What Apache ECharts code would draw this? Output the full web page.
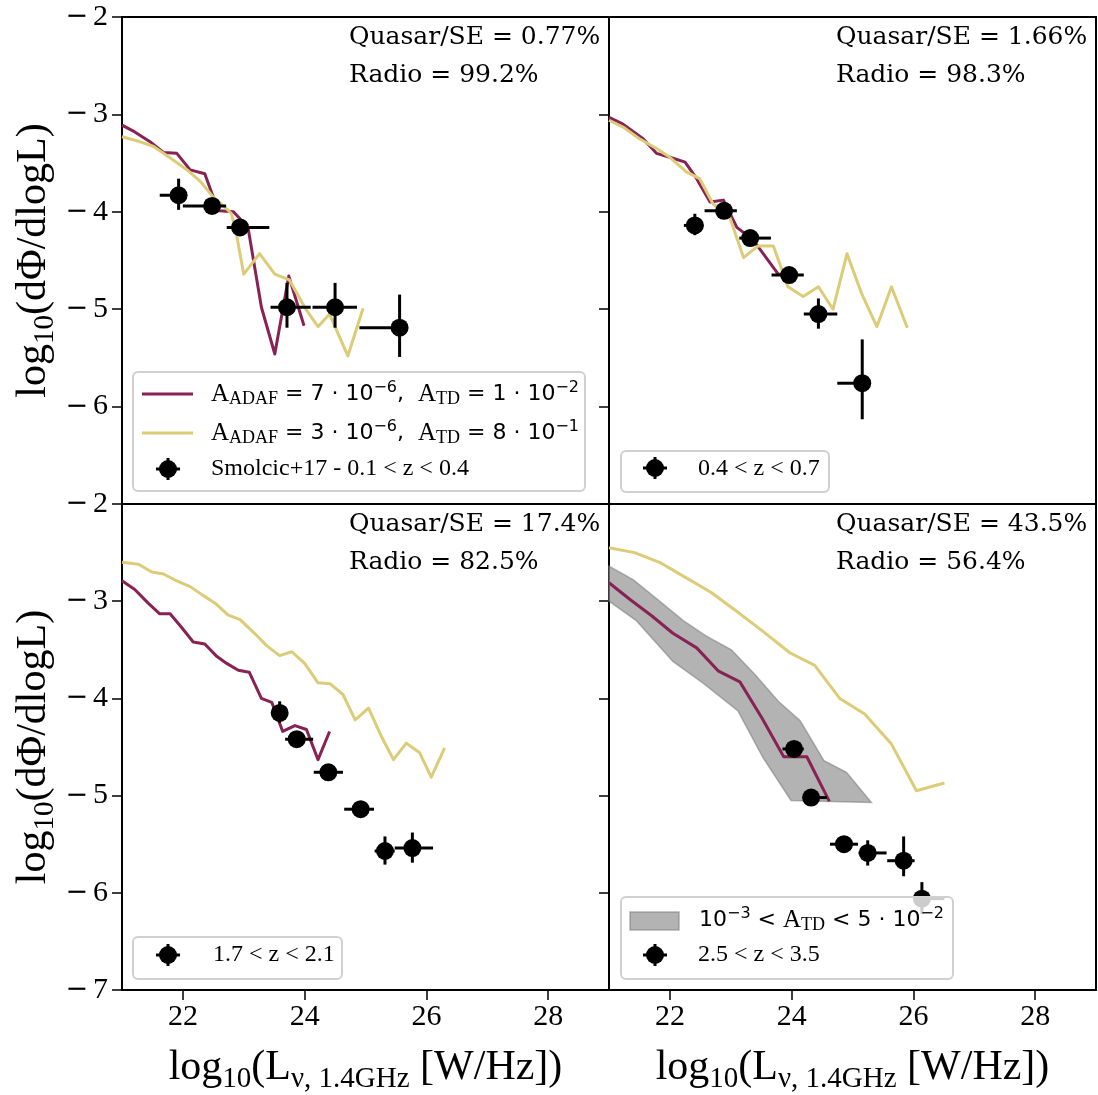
<!DOCTYPE html>
<html><head><meta charset="utf-8">
<script src="https://cdn.jsdelivr.net/npm/echarts@6/dist/echarts.min.js"></script>
<style>html,body{margin:0;padding:0;background:#fff}#c{width:1098px;height:1095px}</style>
</head><body><div id="c"></div>
<script>
// ---------------- data ----------------
const xTicks = [22, 24, 26, 28];

// Panel 1 : 0.1 < z < 0.4
const p1Purple = [[21.0,-3.11],[21.21,-3.18],[21.46,-3.28],[21.68,-3.39],[21.9,-3.40],[22.12,-3.57],[22.36,-3.61],[22.5,-3.85],[22.6,-3.99],[22.83,-4.0],[23.07,-4.16],[23.29,-4.98],[23.51,-5.46],[23.74,-4.66],[23.99,-5.17]];
const p1Yellow = [[21.0,-3.23],[21.24,-3.27],[21.52,-3.33],[21.8,-3.45],[22.07,-3.57],[22.29,-3.69],[22.5,-3.85],[22.72,-3.97],[22.8,-4.02],[22.88,-4.23],[23.0,-4.64],[23.26,-4.43],[23.51,-4.64],[23.75,-4.70],[24.03,-5.01],[24.22,-5.18],[24.41,-5.05],[24.71,-5.48],[24.96,-4.99]];
const p1X   = [21.93, 22.48, 22.94, 23.71, 24.5, 25.56];
const p1Y   = [-3.83, -3.94, -4.16, -4.98, -4.98, -5.19];
const p1XLo = [21.62, 22.0, 22.72, 23.44, 24.13, 24.9];
const p1XHi = [22.0, 22.71, 23.42, 24.1, 24.86, 25.56];
const p1YLo = [-3.98, -4.0, -4.22, -5.19, -5.19, -5.49];
const p1YHi = [-3.66, -3.88, -4.10, -4.73, -4.73, -4.85];

// Panel 2 : 0.4 < z < 0.7
const p2Purple = [[21.0,-3.03],[21.23,-3.10],[21.56,-3.25],[21.78,-3.40],[22.0,-3.44],[22.25,-3.49],[22.44,-3.66],[22.66,-3.90],[22.88,-3.88],[23.1,-4.16],[23.37,-4.29],[23.78,-4.64],[23.85,-4.64]];
const p2Yellow = [[21.0,-3.06],[21.23,-3.13],[21.5,-3.25],[21.78,-3.35],[22.0,-3.44],[22.27,-3.59],[22.49,-3.66],[22.71,-3.92],[22.98,-4.05],[23.21,-4.47],[23.45,-4.35],[23.7,-4.35],[23.94,-4.77],[24.19,-4.87],[24.44,-4.77],[24.68,-5.0],[24.91,-4.43],[25.15,-4.84],[25.4,-5.18],[25.64,-4.77],[25.9,-5.19]];
const p2X   = [22.41, 22.89, 23.32, 23.96, 24.44, 25.16];
const p2Y   = [-4.14, -3.99, -4.27, -4.65, -5.05, -5.76];
const p2XLo = [22.23, 22.57, 23.14, 23.67, 24.2, 24.75];
const p2XHi = [22.55, 23.1, 23.66, 24.2, 24.75, 25.16];
const p2YLo = [-4.24, -4.07, -4.33, -4.72, -5.20, -6.13];
const p2YHi = [-4.02, -3.92, -4.21, -4.58, -4.89, -5.31];

// Panel 3 : 1.7 < z < 2.1
const p3Purple = [[21.0,-2.79],[21.21,-2.88],[21.43,-3.02],[21.62,-3.13],[21.79,-3.13],[21.98,-3.27],[22.17,-3.42],[22.36,-3.44],[22.56,-3.57],[22.72,-3.64],[22.91,-3.71],[23.09,-3.73],[23.29,-4.0],[23.46,-4.04],[23.64,-4.34],[23.84,-4.28],[24.03,-4.32],[24.22,-4.63],[24.41,-4.34]];
const p3Yellow = [[21.0,-2.60],[21.27,-2.62],[21.49,-2.70],[21.68,-2.72],[21.9,-2.79],[22.12,-2.85],[22.33,-2.94],[22.53,-3.02],[22.74,-3.14],[22.94,-3.19],[23.16,-3.32],[23.38,-3.46],[23.59,-3.56],[23.79,-3.52],[24.0,-3.64],[24.22,-3.84],[24.42,-3.85],[24.63,-3.96],[24.83,-4.22],[25.05,-4.10],[25.26,-4.39],[25.46,-4.63],[25.67,-4.46],[25.89,-4.56],[26.08,-4.81],[26.3,-4.51]];
const p3X   = [23.59, 23.87, 24.39, 24.92, 25.32, 25.77];
const p3Y   = [-4.15, -4.42, -4.76, -5.14, -5.57, -5.54];
const p3XLo = [23.45, 23.68, 24.15, 24.65, 25.15, 25.48];
const p3XHi = [23.7, 24.14, 24.63, 25.14, 25.48, 26.11];
const p3YLo = [-4.25, -4.5, -4.84, -5.22, -5.71, -5.69];
const p3YHi = [-4.03, -4.34, -4.68, -5.06, -5.42, -5.38];

// Panel 4 : 2.5 < z < 3.5
const p4Purple = [[21.0,-2.81],[21.34,-2.98],[21.7,-3.15],[22.05,-3.33],[22.44,-3.48],[22.8,-3.72],[23.15,-3.83],[23.51,-4.20],[23.87,-4.60],[24.25,-4.60],[24.62,-5.06]];
const p4Yellow = [[21.0,-2.45],[21.42,-2.50],[21.83,-2.60],[22.27,-2.76],[22.68,-2.91],[23.09,-3.10],[23.53,-3.31],[23.97,-3.53],[24.38,-3.66],[24.79,-4.0],[25.2,-4.16],[25.64,-4.47],[26.05,-4.95],[26.51,-4.87]];
const p4BandUpper = [[21.0,-2.64],[21.4,-2.78],[21.83,-3.0],[22.22,-3.2],[22.6,-3.36],[23.01,-3.50],[23.39,-3.75],[23.78,-4.03],[24.14,-4.23],[24.53,-4.64],[24.9,-4.76],[25.31,-5.07]];
const p4BandLower = [[21.0,-3.0],[21.45,-3.20],[22.05,-3.62],[22.54,-3.84],[23.12,-4.13],[23.53,-4.61],[23.99,-5.05],[25.31,-5.07]];
const p4X   = [24.04, 24.32, 24.86, 25.25, 25.84, 26.14];
const p4Y   = [-4.52, -5.02, -5.50, -5.59, -5.67, -6.06];
const p4XLo = [23.85, 24.19, 24.63, 25.1, 25.57, 26.02];
const p4XHi = [24.2, 24.58, 25.09, 25.56, 26.02, 26.51];
const p4YLo = [-4.6, -5.1, -5.58, -5.72, -5.83, -6.22];
const p4YHi = [-4.44, -4.94, -5.42, -5.46, -5.42, -5.89];

const quasarFrac = ['0.77%', '1.66%', '17.4%', '43.5%'];
const radioFrac  = ['99.2%', '98.3%', '82.5%', '56.4%'];
const zLabels = ['Smolcic+17 - 0.1 < z < 0.4', '0.4 < z < 0.7', '1.7 < z < 2.1', '2.5 < z < 3.5'];

// ---------------- chart ----------------
const PURPLE = '#882255', YELLOW = '#DDCC77';
const SERIF = 'Liberation Serif';
const panels = [
  {purple:p1Purple, yellow:p1Yellow, obs:[p1X,p1Y,p1XLo,p1XHi,p1YLo,p1YHi]},
  {purple:p2Purple, yellow:p2Yellow, obs:[p2X,p2Y,p2XLo,p2XHi,p2YLo,p2YHi]},
  {purple:p3Purple, yellow:p3Yellow, obs:[p3X,p3Y,p3XLo,p3XHi,p3YLo,p3YHi]},
  {purple:p4Purple, yellow:p4Yellow, obs:[p4X,p4Y,p4XLo,p4XHi,p4YLo,p4YHi]}
];
const boxes = [[122,17,487,487],[609,17,487,487],[122,504,487,486],[609,504,487,486]];

const nameRich = {
  a: {fontFamily: SERIF, fontSize: 42, lineHeight: 52, color: '#000'},
  s: {fontFamily: SERIF, fontSize: 29, lineHeight: 52, color: '#000', padding: [22,0,0,0]}
};
const tickRich = {
  m: {fontFamily: 'DejaVu Sans', fontSize: 27, color: '#000', padding: [0,5,0,0]},
  n: {fontFamily: SERIF, fontSize: 30, color: '#000'}
};

const grid = boxes.map(b => ({left:b[0], top:b[1], width:b[2], height:b[3], show:true, borderColor:'#000', borderWidth:2, backgroundColor:'transparent', containLabel:false}));

const xAxis = boxes.map((b,i) => ({
  type:'value', gridIndex:i, min:21, max:29,
  splitLine:{show:false}, axisLine:{show:false},
  axisTick:{show:i>=2, customValues:xTicks, length:10, lineStyle:{color:'#000', width:1.5}},
  axisLabel:{show:i>=2, customValues:xTicks, margin:12, color:'#000', fontFamily:SERIF, fontSize:30},
  name: i>=2 ? '{a|log}{s|10}{a|(L}{s|\u03bd, 1.4GHz}{a| [W/Hz])}' : '',
  nameLocation:'middle', nameGap:52, nameTextStyle:{rich:nameRich}
}));

const yAxis = boxes.map((b,i) => ({
  type:'value', gridIndex:i, min:-7, max:-2, interval:1,
  splitLine:{show:false}, axisLine:{show:false},
  axisTick:{show:true, length:10, lineStyle:{color:'#000', width:1.5}},
  axisLabel:{show:(i%2===0), margin:14, rich:tickRich,
    formatter: v => (i===0 && v===-7) ? '' : (v < 0 ? '{m|\u2212}' : '') + '{n|' + Math.abs(v) + '}'},
  name: (i%2===0) ? '{a|log}{s|10}{a|(d\u03a6/dlogL)}' : '',
  nameLocation:'middle', nameRotate:90, nameGap:62, nameTextStyle:{rich:nameRich}
}));

function errRender(params, api) {
  const x = api.value(0), y = api.value(1);
  const c = api.coord([x,y]);
  const xl = api.coord([api.value(2), y]), xh = api.coord([api.value(3), y]);
  const yl = api.coord([x, api.value(4)]), yh = api.coord([x, api.value(5)]);
  const ls = {stroke:'#000', lineWidth:3};
  return {type:'group', children:[
    {type:'line', shape:{x1:xl[0], y1:c[1], x2:xh[0], y2:c[1]}, style:ls},
    {type:'line', shape:{x1:c[0], y1:yl[1], x2:c[0], y2:yh[1]}, style:ls},
    {type:'circle', shape:{cx:c[0], cy:c[1], r:9}, style:{fill:'#000'}}
  ]};
}

const series = [];
// shaded band (panel 4)
series.push({
  type:'custom', xAxisIndex:3, yAxisIndex:3, z:1, silent:true,
  data:[[p4BandUpper[0][0], p4BandUpper[0][1]]],
  renderItem:(params, api) => {
    const pts = p4BandUpper.concat(p4BandLower.slice().reverse()).map(p => api.coord(p));
    return {type:'polygon', shape:{points:pts}, style:{fill:'rgba(128,128,128,0.6)', stroke:'rgba(128,128,128,0.6)', lineWidth:1.5}};
  }
});
panels.forEach((p,i) => {
  series.push({type:'line', xAxisIndex:i, yAxisIndex:i, data:p.purple, showSymbol:false, symbol:'none', z:2, silent:true,
    lineStyle:{color:PURPLE, width:3, join:'round'}});
  series.push({type:'line', xAxisIndex:i, yAxisIndex:i, data:p.yellow, showSymbol:false, symbol:'none', z:2, silent:true,
    lineStyle:{color:YELLOW, width:3, join:'round'}});
  const o = p.obs;
  series.push({type:'custom', xAxisIndex:i, yAxisIndex:i, z:3, silent:true,
    data:o[0].map((x,k) => [x, o[1][k], o[2][k], o[3][k], o[4][k], o[5][k]]),
    renderItem:errRender});
});

// ---------------- annotations & legends ----------------
const graphic = [];
const annot = [[349,37.5,75],[836,37.5,75],[349,524,562],[836,524,562]];
annot.forEach((a,i) => {
  graphic.push({type:'text', z:100, style:{text:'Quasar/SE = ' + quasarFrac[i], x:a[0], y:a[1], fontFamily:'DejaVu Serif', fontSize:25, fill:'#000', align:'left', verticalAlign:'middle'}});
  graphic.push({type:'text', z:100, style:{text:'Radio = ' + radioFrac[i], x:a[0], y:a[2], fontFamily:'DejaVu Serif', fontSize:25, fill:'#000', align:'left', verticalAlign:'middle'}});
});

const legRich = {
  A: {fontFamily:SERIF, fontSize:25, lineHeight:36, color:'#000'},
  s: {fontFamily:SERIF, fontSize:18, lineHeight:36, color:'#000', padding:[10,0,0,0]},
  d: {fontFamily:'DejaVu Sans', fontSize:22, lineHeight:36, color:'#000'},
  p: {fontFamily:'DejaVu Sans', fontSize:16, lineHeight:36, color:'#000', padding:[0,0,13,0]}
};
function legBox(x1,y1,x2,y2) {
  graphic.push({type:'rect', z:90, shape:{x:x1, y:y1, width:x2-x1, height:y2-y1, r:5},
    style:{fill:'rgba(255,255,255,0.8)', stroke:'#d0d0d0', lineWidth:2}});
}
function legMarker(cx, cy) {
  graphic.push({type:'line', z:95, shape:{x1:cx-12, y1:cy, x2:cx+12, y2:cy}, style:{stroke:'#000', lineWidth:3}});
  graphic.push({type:'line', z:95, shape:{x1:cx, y1:cy-11, x2:cx, y2:cy+11}, style:{stroke:'#000', lineWidth:3}});
  graphic.push({type:'circle', z:96, shape:{cx:cx, cy:cy, r:9}, style:{fill:'#000'}});
}
function legText(x, y, txt, size) {
  graphic.push({type:'text', z:97, style:{text:txt, x:x, y:y, fontFamily:SERIF, fontSize:size, fill:'#000', align:'left', verticalAlign:'middle'}});
}
function legRichText(x, y, txt) {
  graphic.push({type:'text', z:97, style:{text:txt, x:x, y:y, rich:legRich, align:'left', verticalAlign:'middle'}});
}
// panel 1 legend
legBox(133, 372, 585, 491);
graphic.push({type:'line', z:95, shape:{x1:142, y1:394, x2:193, y2:394}, style:{stroke:PURPLE, lineWidth:3}});
graphic.push({type:'line', z:95, shape:{x1:142, y1:433, x2:193, y2:433}, style:{stroke:YELLOW, lineWidth:3}});
legRichText(211, 394, '{A|A}{s|ADAF}{d| = 7 \u00b7 10}{p|\u22126}{d|,  }{A|A}{s|TD}{d| = 1 \u00b7 10}{p|\u22122}');
legRichText(211, 433, '{A|A}{s|ADAF}{d| = 3 \u00b7 10}{p|\u22126}{d|,  }{A|A}{s|TD}{d| = 8 \u00b7 10}{p|\u22121}');
legMarker(168, 469);
legText(211, 469, zLabels[0], 24);
// panel 2 legend
legBox(621, 451, 829, 492);
legMarker(655, 468);
legText(698, 469, zLabels[1], 24);
// panel 3 legend
legBox(133, 937, 342, 979);
legMarker(168, 955);
legText(213, 955, zLabels[2], 24);
// panel 4 legend
legBox(621, 897, 953, 979);
graphic.push({type:'rect', z:95, shape:{x:630, y:912, width:49, height:18}, style:{fill:'rgba(128,128,128,0.6)', stroke:'rgba(128,128,128,0.6)', lineWidth:1.5}});
legRichText(699, 920, '{d|10}{p|\u22123}{d| < }{A|A}{s|TD}{d| < 5 \u00b7 10}{p|\u22122}');
legMarker(655, 955);
legText(698, 955, zLabels[3], 24);

const chart = echarts.init(document.getElementById('c'), null, {renderer:'canvas'});
chart.setOption({animation:false, backgroundColor:'#fff', grid, xAxis, yAxis, series, graphic});
</script></body></html>
